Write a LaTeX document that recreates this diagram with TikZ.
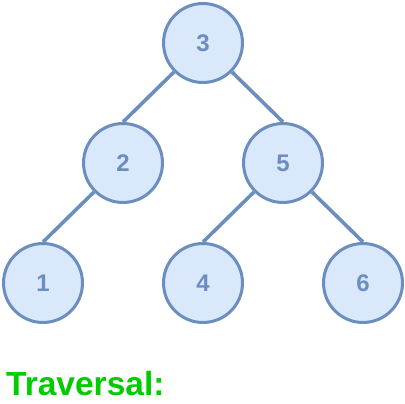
\documentclass[tikz,border=0pt]{standalone}
\usepackage{fontspec}
\setmainfont{Liberation Sans}
\definecolor{nodefill}{HTML}{DAE8FC}
\definecolor{nodeline}{HTML}{6C8EBF}
\definecolor{travgreen}{HTML}{00CC00}
\begin{document}
\begin{tikzpicture}[x=1pt,y=-1pt,
  tnode/.style={circle,draw=nodeline,fill=nodefill,line width=3pt,minimum size=79pt,inner sep=0pt,
    text=nodeline,font=\fontsize{24}{28}\selectfont\bfseries},
  tedge/.style={draw=nodeline,line width=3.6pt}]
\useasboundingbox (0,0) rectangle (405,404);
\node[tnode] (n3) at (203,43) {3};
\node[tnode] (n2) at (123,163) {2};
\node[tnode] (n5) at (283,163) {5};
\node[tnode] (n1) at (43,283) {1};
\node[tnode] (n4) at (203,283) {4};
\node[tnode] (n6) at (363,283) {6};
\draw[tedge] (n3.225) -- (n2.north);
\draw[tedge] (n3.315) -- (n5.north);
\draw[tedge] (n2.225) -- (n1.north);
\draw[tedge] (n5.225) -- (n4.north);
\draw[tedge] (n5.315) -- (n6.north);
\node[anchor=base west,inner sep=0pt,text=travgreen,font=\fontsize{33.5}{40}\selectfont\bfseries] (trav) at (6,395) {Traversal:};
\end{tikzpicture}
\end{document}
